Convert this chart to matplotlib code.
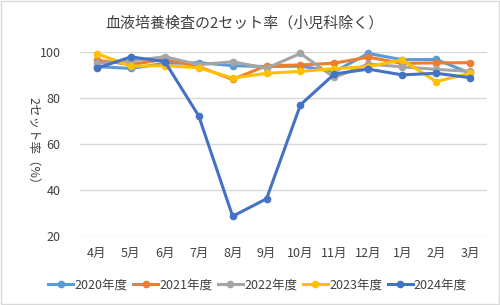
import matplotlib
matplotlib.use("Agg")
import matplotlib.pyplot as plt
from matplotlib.patches import Rectangle

plt.rcParams['font.family'] = ['Noto Sans CJK JP', 'DejaVu Sans']

months = ["4月", "5月", "6月", "7月", "8月", "9月", "10月", "11月", "12月", "1月", "2月", "3月"]
fy2020 = [93.6, 92.8, 95.0, 95.3, 94.0, 93.6, 93.8, 91.4, 99.3, 96.6, 96.7, 90.8]
fy2021 = [96.4, 94.5, 96.7, 93.6, 88.0, 94.0, 94.3, 95.1, 97.7, 95.0, 95.2, 95.3]
fy2022 = [95.0, 96.0, 97.9, 94.4, 95.7, 92.9, 99.3, 88.9, 94.7, 93.5, 92.4, 91.5]
fy2023 = [99.2, 93.8, 94.0, 93.1, 88.6, 90.7, 91.5, 92.7, 93.6, 96.5, 87.1, 90.7]
fy2024 = [92.9, 97.8, 95.8, 72.2, 28.6, 36.2, 77.0, 90.4, 92.5, 90.0, 90.7, 88.8]

series = [
    ("2020年度", fy2020, "#5B9BD5"),
    ("2021年度", fy2021, "#ED7D31"),
    ("2022年度", fy2022, "#A5A5A5"),
    ("2023年度", fy2023, "#FFC000"),
    ("2024年度", fy2024, "#4472C4"),
]

fig = plt.figure(figsize=(5, 3.05), dpi=100)
ax = fig.add_axes([0.16, 0.226, 0.814, 0.604])

x = range(len(months))
for name, vals, col in series:
    ax.plot(x, vals, '-o', color=col, lw=2.2, ms=4.5, label=name, clip_on=False)

ax.set_ylim(20, 100)
ax.set_yticks([20, 40, 60, 80, 100])
ax.set_xlim(-0.5, len(months) - 0.5)
ax.set_xticks(list(x))
ax.set_xticklabels(months)
ax.grid(axis='y', color='#D9D9D9', lw=1)
ax.set_axisbelow(True)
for s in ax.spines.values():
    s.set_visible(False)
ax.tick_params(length=0, labelsize=9, colors='#404040', pad=8)
ax.tick_params(axis='y', pad=14)

ax.set_ylabel("2セット率（%）", rotation=270, fontsize=9, color='#404040')
ax.yaxis.set_label_coords(-0.13, 0.5)

fig.text(0.49, 0.925, "血液培養検査の2セット率（小児科除く）", ha='center', va='center',
         fontsize=10.8, color='#404040')

# legend along the bottom
ax.legend(loc='center', bbox_to_anchor=(0.515, 0.066), bbox_transform=fig.transFigure,
          ncol=5, frameon=False, fontsize=9, handlelength=2.0, handletextpad=0.1,
          columnspacing=0.45, labelcolor='#404040')

fig.patches.append(Rectangle((0.002, 0.003), 0.996, 0.994, transform=fig.transFigure,
                             fill=False, edgecolor='#D9D9D9', lw=1))

fig.savefig("out.png", dpi=100)
